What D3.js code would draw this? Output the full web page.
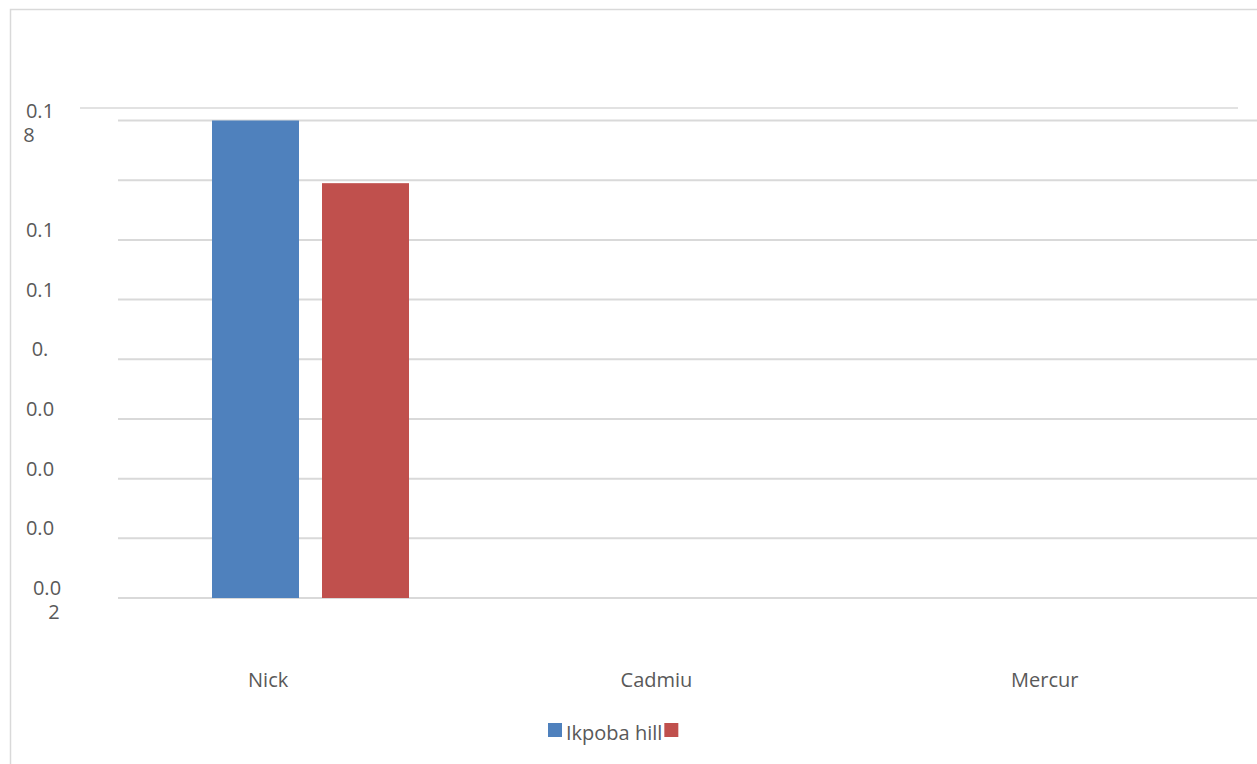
<!DOCTYPE html>
<html>
<head>
<meta charset="utf-8">
<script src="https://cdn.jsdelivr.net/npm/d3@7"></script>
<style>
  html, body { margin: 0; padding: 0; background: #fff; }
  svg { display: block; }
  text { font-family: "Open Sans", "Liberation Sans", sans-serif; fill: #595959; }
</style>
</head>
<body>
<svg id="chart"></svg>
<script>
// data
var categories = ["Nick", "Cadmiu", "Mercur"];
var seriesNames = ["Ikpoba hill", ""];
var seriesColors = ["#4F81BD", "#C0504D"];
var ikpobaValues = [0.18, 0, 0];
var secondValues = [0.159, 0, 0];
var yTicks = [0.02, 0.04, 0.06, 0.08, 0.10, 0.12, 0.14, 0.16, 0.18];
var yTickLabels = [["0.0", "2"], ["0.0"], ["0.0"], ["0.0"], ["0."], ["0.1"], ["0.1"], [], ["0.1", "8"]];

var width = 1257;
var height = 764;
var gridColor = "#d9d9d9";
var fontSize = 20;

var svg = d3.select('#chart')
    .attr('width', width)
    .attr('height', height);

// outer chart border (clipped on right and bottom)
svg.append('path')
    .attr('d', 'M10.5,' + height + 'V9.5H' + width)
    .attr('fill', 'none')
    .attr('stroke', gridColor)
    .attr('stroke-width', 1.5);

// plot area top line
svg.append('line')
    .attr('x1', 80).attr('x2', 1238)
    .attr('y1', 108).attr('y2', 108)
    .attr('stroke', gridColor).attr('stroke-width', 1.5);

var y = d3.scaleLinear()
    .domain([0.02, 0.18])
    .range([598, 120.5])
    .clamp(true);

var x = d3.scaleBand()
    .domain(categories)
    .range([74, 1239]);

// bars sit a little right of the category label
var xSub = d3.scaleBand()
    .domain(d3.range(seriesNames.length))
    .range([138, 335])
    .paddingInner(23 / 110);

// gridlines
svg.append('g')
    .selectAll('line').data(yTicks)
    .enter().append('line')
    .attr('x1', 118).attr('x2', width)
    .attr('y1', d => y(d)).attr('y2', d => y(d))
    .attr('stroke', gridColor)
    .attr('stroke-width', 2);

// y tick labels (truncated as in the original)
var yLab = svg.append('g')
    .selectAll('text').data(yTicks)
    .enter().append('text')
    .attr('text-anchor', 'middle')
    .attr('font-size', fontSize)
    .attr('transform', (d, i) => `translate(${i == 0 ? 47 : 40},${y(d) - 3})`);

yLab.selectAll('tspan')
    .data((d, i) => yTickLabels[i].map(s => ({ s: s, bottom: i == 0 })))
    .enter().append('tspan')
    .attr('x', (d, j) => j == 0 ? 0 : (d.bottom ? 7 : -11))
    .attr('dy', (d, j) => j == 0 ? 0 : 24)
    .text(d => d.s);

// bars
var allValues = [ikpobaValues, secondValues];
var groups = svg.append('g')
    .selectAll('g').data(categories)
    .enter().append('g')
    .attr('transform', d => `translate(${x(d)},0)`);

groups.selectAll('rect')
    .data((c, ci) => allValues.map((vals, si) => ({ s: si, v: vals[ci] })))
    .enter().append('rect')
    .filter(d => d.v > 0.02)
    .attr('x', d => xSub(d.s))
    .attr('width', xSub.bandwidth())
    .attr('y', d => y(d.v))
    .attr('height', d => y(0.02) - y(d.v))
    .attr('fill', d => seriesColors[d.s]);

// x labels
svg.append('g')
    .selectAll('text').data(categories)
    .enter().append('text')
    .attr('x', d => x(d) + x.bandwidth() / 2)
    .attr('y', 687)
    .attr('text-anchor', 'middle')
    .attr('font-size', fontSize)
    .text(d => d);

// legend
var legend = svg.append('g').attr('transform', 'translate(548,723)');
var lx = 0;
seriesNames.forEach(function (name, i) {
    legend.append('rect')
        .attr('x', lx).attr('y', 0)
        .attr('width', 14).attr('height', 14)
        .attr('fill', seriesColors[i]);
    var t = legend.append('text')
        .attr('x', lx + 18).attr('y', 17)
        .attr('font-size', fontSize)
        .text(name);
    lx += 18 + (name ? t.node().getComputedTextLength() + 2 : 0);
});
</script>
</body>
</html>
